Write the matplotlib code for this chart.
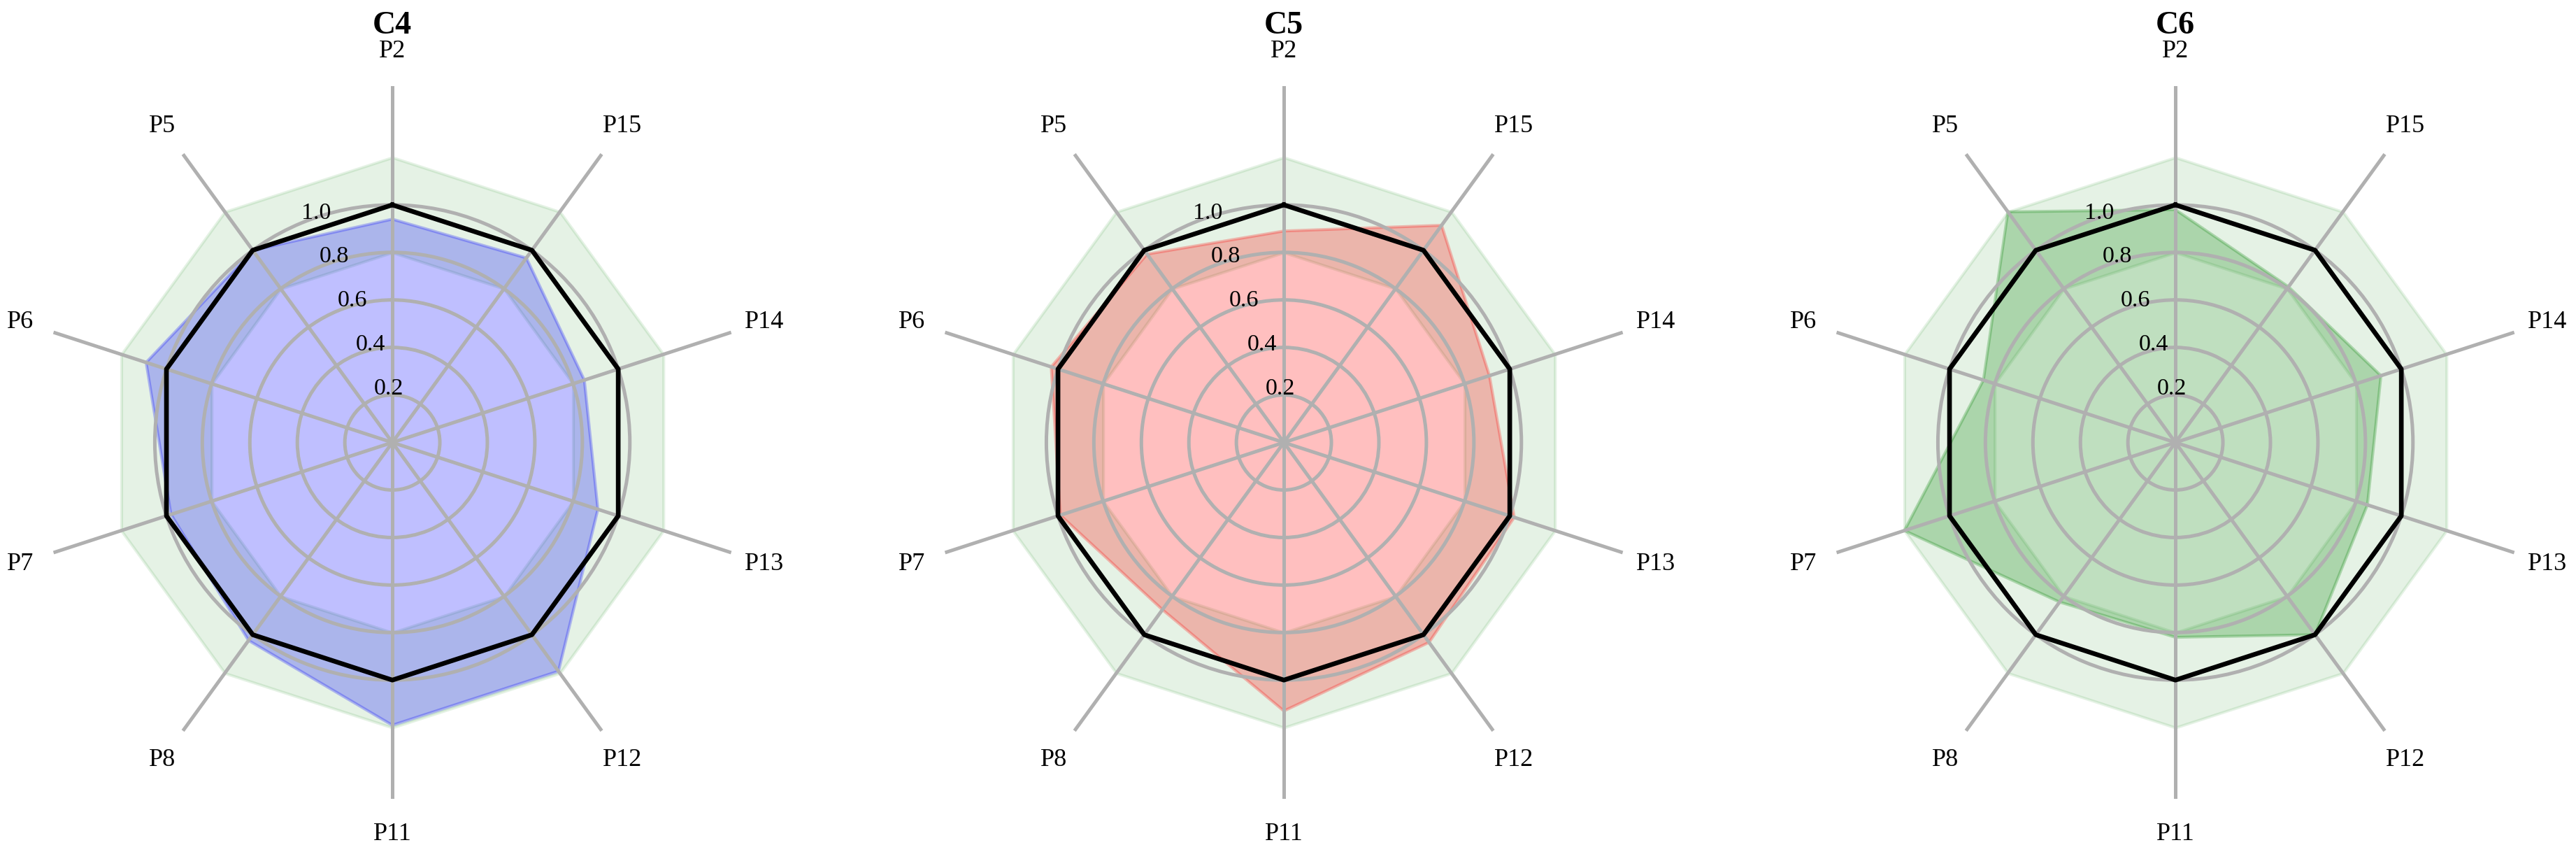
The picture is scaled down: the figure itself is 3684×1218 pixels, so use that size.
import numpy as np
import matplotlib.pyplot as plt

plt.rcParams['font.family'] = ['Liberation Serif', 'DejaVu Serif']

# categories go counter-clockwise starting at the top
labels = ['P2', 'P5', 'P6', 'P7', 'P8', 'P11', 'P12', 'P13', 'P14', 'P15']
c4 = [0.94, 1.00, 1.09, 0.98, 1.03, 1.19, 1.19, 0.91, 0.85, 0.96]
c5 = [0.89, 0.98, 1.03, 0.99, 0.87, 1.13, 1.04, 1.02, 0.91, 1.13]
c6 = [0.98, 1.20, 0.85, 1.20, 0.83, 0.82, 1.00, 0.85, 0.91, 0.81]
titles = ['C4', 'C5', 'C6']
colors = ['blue', 'red', 'green']
rticks = [0.2, 0.4, 0.6, 0.8, 1.0]
band_lo, band_hi = 0.8, 1.2   # tolerance band
ref = 1.0                     # reference line

angles = np.linspace(0, 2 * np.pi, len(labels), endpoint=False).tolist()
angles += angles[:1]

fig, axes = plt.subplots(1, 3, figsize=(12.28, 4.063), dpi=300,
                         subplot_kw=dict(polar=True))
fig.subplots_adjust(left=0.014, right=0.9828, bottom=0.0623, top=0.8983, wspace=0.2512)

for ax, title, vals, col in zip(axes, titles, [c4, c5, c6], colors):
    ax.set_theta_offset(np.pi / 2)
    v = vals + vals[:1]
    ax.fill_between(angles, band_lo, band_hi, color='green', alpha=0.1)
    ax.plot(angles, [ref] * len(angles), color='black', linewidth=1.6)
    ax.fill(angles, v, color=col, alpha=0.25)

    ax.set_xticks(angles[:-1])
    ax.set_xticklabels(labels, fontsize=8.7)
    ax.set_yticks(rticks)
    ax.set_yticklabels([f'{t:.1f}' for t in rticks], fontsize=8.2)
    ax.set_ylim(0, 1.5)
    ax.spines['polar'].set_visible(False)
    ax.grid(color='#b0b0b0', linewidth=1.2)
    ax.tick_params(axis='x', pad=1.5)
    ax.set_title(title, fontsize=11, fontweight='bold', y=1.075, pad=0)

fig.savefig('out.png', dpi=300)
